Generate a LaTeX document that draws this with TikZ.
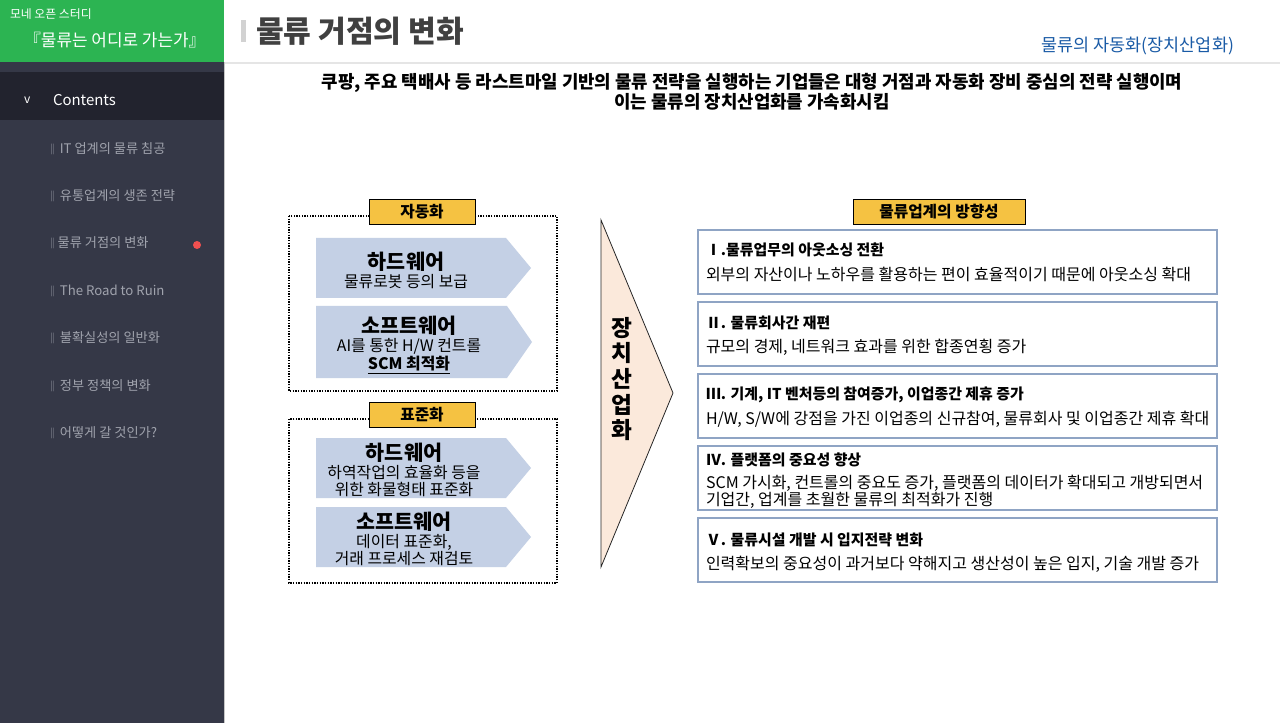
\documentclass[tikz,border=0pt]{standalone}
\usepackage{fontspec}
\setmainfont{Noto Sans CJK KR}

\definecolor{sidegreen}{RGB}{44,180,82}
\definecolor{sidedark}{RGB}{53,56,71}
\definecolor{bandgray}{RGB}{34,35,46}
\definecolor{menugray}{RGB}{160,163,173}
\definecolor{dotred}{RGB}{240,80,80}
\definecolor{titlegray}{RGB}{64,64,64}
\definecolor{linkblue}{RGB}{26,91,166}
\definecolor{tagGold}{RGB}{245,194,66}
\definecolor{chevblue}{RGB}{196,208,229}
\definecolor{peach}{RGB}{251,233,219}
\definecolor{dirline}{RGB}{143,164,196}

\newcommand{\chevhead}{\bfseries\fontsize{15.5}{17}\selectfont}
\newcommand{\menubar}{{\fontsize{8}{9}\selectfont‖}}

\begin{document}
\begin{tikzpicture}[
    x=0.75pt, y=-0.75pt,
    every node/.style={inner sep=0pt, outer sep=0pt},
    menuitem/.style={anchor=west, text=menugray, font=\fontsize{9.9}{12}\selectfont},
    tagbox/.style={draw=black, fill=tagGold, line width=0.6pt, minimum width=79.5pt, minimum height=18.75pt, font=\bfseries\fontsize{11.8}{13}\selectfont},
    chevron/.style={fill=chevblue},
    chevtext/.style={align=center, font=\fontsize{11.9}{13.4}\selectfont},
    groupbox/.style={draw, densely dotted, line width=1pt},
    dirbox/.style={draw=dirline, line width=1.1pt, fill=white, minimum width=389.25pt, minimum height=48pt, anchor=north west},
    dirtitle/.style={anchor=west, font=\bfseries\fontsize{11.2}{13}\selectfont},
    dirtext/.style={anchor=west, align=left, font=\fontsize{12}{12.8}\selectfont}
]
\useasboundingbox (0,0) rectangle (1280,723);
\fill[white] (0,0) rectangle (1280,723);

% sidebar
\fill[sidedark] (0,0) rectangle (224,723);
\fill[sidegreen] (0,0) rectangle (224,62);
\fill[bandgray] (0,72) rectangle (224,120);
\draw[gray!45] (224.5,62) -- (224.5,723);
\node[anchor=west, text=white, font=\fontsize{8.9}{10}\selectfont] (study) at (10,14) {모네 오픈 스터디};
\node[anchor=west, text=white, font=\fontsize{12.7}{14}\selectfont] (book) at (24,40) {『물류는 어디로 가는가』};
\node[anchor=west, text=white, font=\fontsize{9}{11}\selectfont] (caret) at (24,100) {v};
\node[anchor=west, text=white, font=\fontsize{11.2}{13}\selectfont] (contents) at (53,100) {Contents};
\node[menuitem] (m1) at (47,149) {\menubar\,IT 업계의 물류 침공};
\node[menuitem] (m2) at (47,196) {\menubar\,유통업계의 생존 전략};
\node[menuitem] (m3) at (47,243) {\menubar 물류 거점의 변화};
\node[menuitem] (m4) at (47,291) {\menubar\,The Road to Ruin};
\node[menuitem] (m5) at (47,338) {\menubar\,불확실성의 일반화};
\node[menuitem] (m6) at (47,386) {\menubar\,정부 정책의 변화};
\node[menuitem] (m7) at (47,433) {\menubar\,어떻게 갈 것인가?};
\fill[dotred] (197,245) circle (4);

% header
\draw[gray!20, line width=1.5pt] (225,63) -- (1280,63);
\fill[gray!35] (241,20) rectangle (246,42);
\node[anchor=west, text=titlegray, font=\bfseries\fontsize{22.6}{26}\selectfont] (title) at (256,31) {물류 거점의 변화};
\node[anchor=east, text=linkblue, font=\fontsize{13.1}{16}\selectfont] (section) at (1234,46) {물류의 자동화(장치산업화)};
\node[align=center, font=\bfseries\fontsize{13.4}{14.3}\selectfont] (lead) at (752,92)
    {쿠팡, 주요 택배사 등 라스트마일 기반의 물류 전략을 실행하는 기업들은 대형 거점과 자동화 장비 중심의 전략 실행이며\\이는 물류의 장치산업화를 가속화시킴};

% left groups
\draw[groupbox] (289,216) rectangle (557,391);
\draw[groupbox] (289,419) rectangle (557,583);
\node[tagbox] (auto) at (422,211.5) {자동화};
\node[tagbox] (std) at (422,415) {표준화};

\fill[chevron] (316,238) -- (506,238) -- (531,268) -- (506,298) -- (316,298) -- cycle;
\fill[chevron] (316,306) -- (507,306) -- (532,342) -- (507,378) -- (316,378) -- cycle;
\fill[chevron] (316,438) -- (506,438) -- (531,468) -- (506,498) -- (316,498) -- cycle;
\fill[chevron] (316,507) -- (506,507) -- (531,537) -- (506,567) -- (316,567) -- cycle;
\node[chevtext] (hw1) at (406,270) {{\chevhead 하드웨어}\\물류로봇 등의 보급};
\node[chevtext] (sw1) at (409,345) {{\chevhead 소프트웨어}\\AI를 통한 H/W 컨트롤\\\underline{\bfseries SCM 최적화}};
\node[chevtext] (hw2) at (404,470) {{\chevhead 하드웨어}\\하역작업의 효율화 등을\\위한 화물형태 표준화};
\node[chevtext] (sw2) at (404,539) {{\chevhead 소프트웨어}\\데이터 표준화,\\거래 프로세스 재검토};

% middle wedge
\filldraw[fill=peach, draw=black!85, line width=0.6pt] (601,220) -- (673,393) -- (601,567) -- cycle;
\node[align=center, font=\bfseries\fontsize{17}{19.3}\selectfont] (wedge) at (622,379) {장\\치\\산\\업\\화};

% right column
\node[tagbox, minimum width=129pt] (dir) at (939,211.5) {물류업계의 방향성};
\node[dirbox] (d1) at (698,230) {};
\node[dirbox] (d2) at (698,302) {};
\node[dirbox] (d3) at (698,374) {};
\node[dirbox] (d4) at (698,446) {};
\node[dirbox] (d5) at (698,518) {};

\node[dirtitle] (t1) at (706,250) {Ⅰ.물류업무의 아웃소싱 전환};
\node[dirtext] (b1) at (706,274) {외부의 자산이나 노하우를 활용하는 편이 효율적이기 때문에 아웃소싱 확대};
\node[dirtitle] (t2) at (706,323) {Ⅱ. 물류회사간 재편};
\node[dirtext] (b2) at (706,347) {규모의 경제, 네트워크 효과를 위한 합종연횡 증가};
\node[dirtitle] (t3) at (706,395) {Ⅲ. 기계, IT 벤처등의 참여증가, 이업종간 제휴 증가};
\node[dirtext] (b3) at (706,419) {H/W, S/W에 강점을 가진 이업종의 신규참여, 물류회사 및 이업종간 제휴 확대};
\node[dirtitle] (t4) at (706,460) {Ⅳ. 플랫폼의 중요성 향상};
\node[dirtext] (b4) at (706,491.5) {SCM 가시화, 컨트롤의 중요도 증가, 플랫폼의 데이터가 확대되고 개방되면서\\기업간, 업계를 초월한 물류의 최적화가 진행};
\node[dirtitle] (t5) at (706,540) {Ⅴ. 물류시설 개발 시 입지전략 변화};
\node[dirtext] (b5) at (706,564) {인력확보의 중요성이 과거보다 약해지고 생산성이 높은 입지, 기술 개발 증가};

\end{tikzpicture}
\end{document}
